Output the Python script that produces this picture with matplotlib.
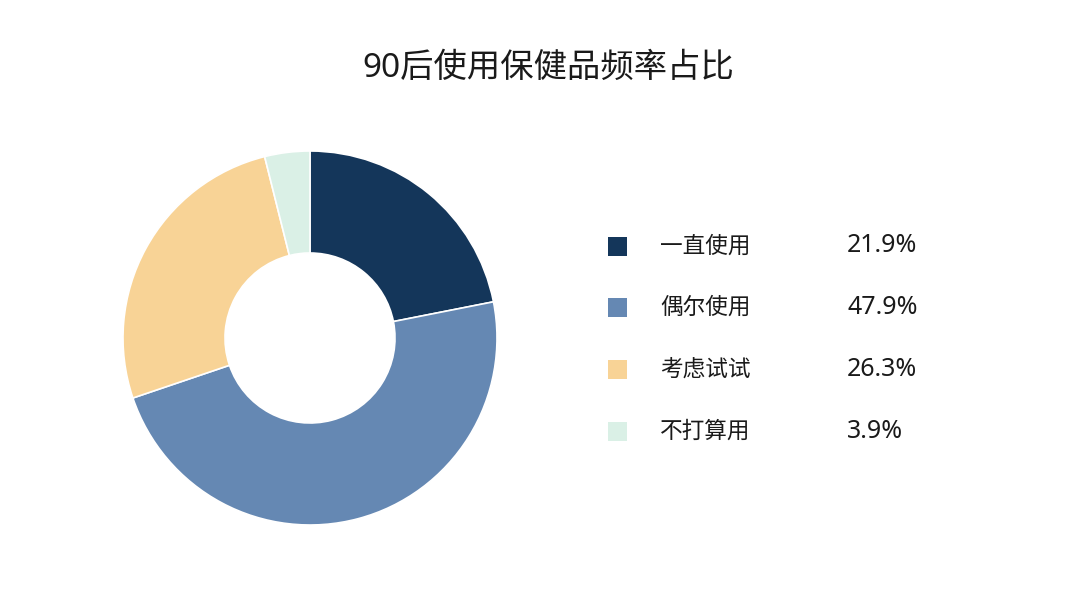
import matplotlib
matplotlib.use("Agg")
import matplotlib.pyplot as plt
from matplotlib.patches import Rectangle

plt.rcParams['font.family'] = ['Noto Sans CJK SC', 'DejaVu Sans']

# 数据
labels = ['一直使用', '偶尔使用', '考虑试试', '不打算用']
values = [21.9, 47.9, 26.3, 3.9]
colors = ['#14365a', '#6588b3', '#f8d396', '#daf0e6']
title = '90后使用保健品频率占比'

W, H = 1080, 596
fig = plt.figure(figsize=(W / 100, H / 100), dpi=100)
fig.patch.set_facecolor('white')

# 环形图
R = 187
cx, cy = 310, 338
ax = fig.add_axes([(cx - R) / W, (H - cy - R) / H, 2 * R / W, 2 * R / H])
ax.pie(values, colors=colors, startangle=90, counterclock=False, radius=1,
       wedgeprops=dict(width=1 - 85 / R, edgecolor='white', linewidth=1.2))
ax.set_xlim(-1, 1)
ax.set_ylim(-1, 1)
ax.set_aspect('equal')
ax.axis('off')

fig.text(548 / W, 1 - 68 / H, title, ha='center', va='center', fontsize=24,
         color='#1a1a1a', family=['Noto Sans', 'Noto Sans CJK SC'])

# 图例
rows_y = [246, 307, 369, 431]
for lab, val, col, y in zip(labels, values, colors, rows_y):
    fig.patches.append(Rectangle((608 / W, 1 - (y + 10) / H), 19 / W, 19 / H,
                                 transform=fig.transFigure, facecolor=col, edgecolor='none'))
    fig.text(660 / W, 1 - y / H, lab, ha='left', va='center', fontsize=16.3,
             color='#1a1a1a')
    fig.text(847 / W, 1 - y / H, f'{val}%', ha='left', va='center', fontsize=18,
             color='#1a1a1a', family='Noto Sans')

fig.savefig('out.png', dpi=100, facecolor='white')
